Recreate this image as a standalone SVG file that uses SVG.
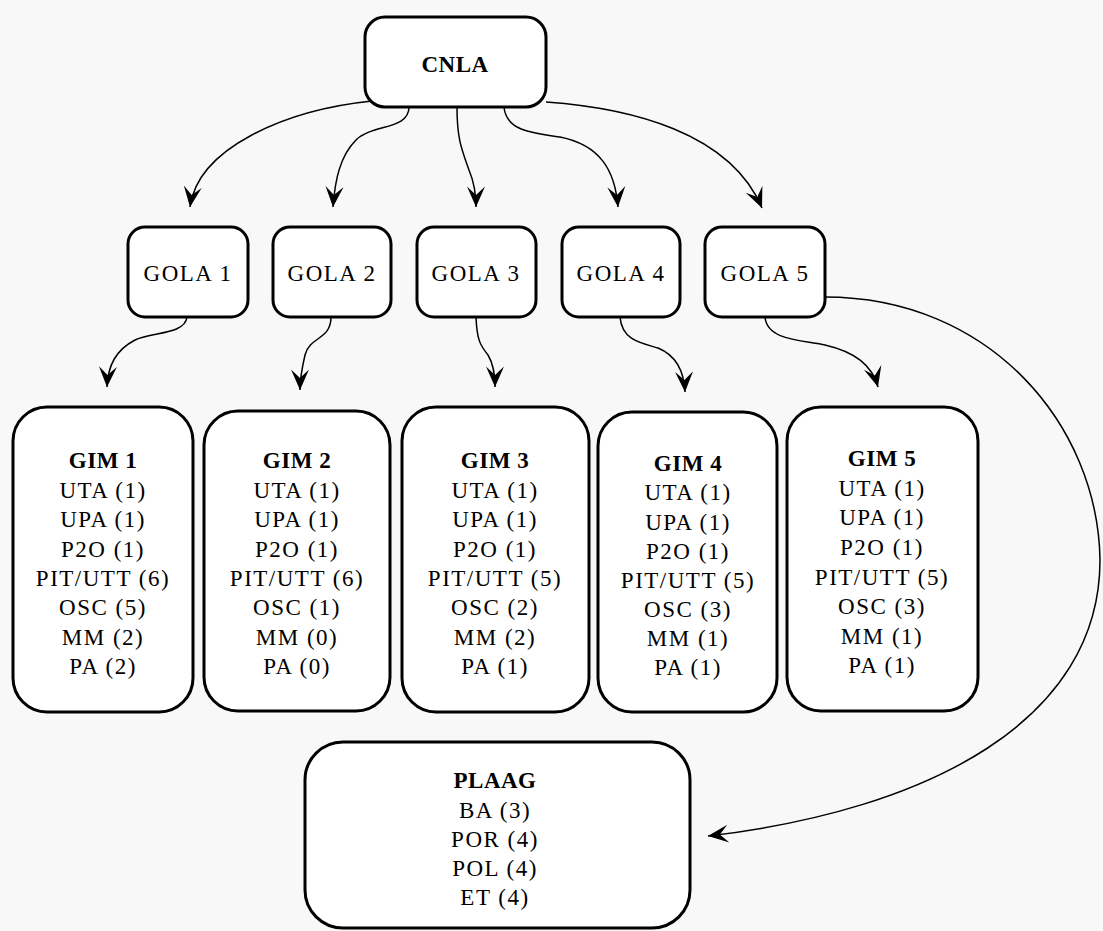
<svg xmlns="http://www.w3.org/2000/svg" width="1103" height="931" viewBox="0 0 1103 931">
<style>
.box{fill:#ffffff;stroke:#000000;stroke-width:3}
.t{font-family:"Liberation Serif","Times New Roman",serif;font-size:23px;fill:#000000;text-anchor:middle;letter-spacing:1.5px}
.b{font-weight:bold;letter-spacing:0.5px}
.c{fill:none;stroke:#000000;stroke-width:1.5}
</style>
<defs>
<marker id="ah" markerUnits="userSpaceOnUse" markerWidth="24" markerHeight="24" viewBox="-18 -9 20 18" refX="0" refY="0" orient="auto">
<path d="M0,0 L-17,-7.5 L-10,0 L-17,7.5 Z" fill="#000000"/>
</marker>
</defs>
<rect x="0" y="0" width="1103" height="931" fill="#f8f8f8"/>
<g id="connectors">
<path class="c" marker-end="url(#ah)" d="M372,101 C285,110 198,148 190,207"/>
<path class="c" marker-end="url(#ah)" d="M409,107 C409,130 372,124 356,140 C340,156 335,180 333,207"/>
<path class="c" marker-end="url(#ah)" d="M457,107 C457,140 462,150 469,170 C474,182 476,195 476,207"/>
<path class="c" marker-end="url(#ah)" d="M504,107 C506,130 530,133 560,137 C600,145 615,170 618,207"/>
<path class="c" marker-end="url(#ah)" d="M546,102 C630,108 730,132 762,208"/>
<path class="c" marker-end="url(#ah)" d="M187,317 C185,335 150,332 135,340 C116,350 108,365 107,387"/>
<path class="c" marker-end="url(#ah)" d="M331,317 C331,340 310,336 305,355 C302,368 300,378 300,390"/>
<path class="c" marker-end="url(#ah)" d="M476,317 C477,340 480,345 488,355 C494,365 495,375 495,387"/>
<path class="c" marker-end="url(#ah)" d="M620,317 C622,340 640,343 658,348 C675,355 684,370 685,392"/>
<path class="c" marker-end="url(#ah)" d="M765,317 C767,340 800,340 825,345 C855,352 872,365 878,387"/>
<path class="c" marker-end="url(#ah)" d="M825,297 C990,297 1098,425 1100,560 C1100,720 930,810 708,836"/>
</g>
<g id="cnla">
<rect class="box" x="365" y="17" width="181" height="90" rx="20" ry="20"/>
<text class="t b" x="455" y="72">CNLA</text>
</g>
<g id="gola1">
<rect class="box" x="128" y="227" width="120" height="90" rx="17" ry="17"/>
<text class="t" x="188" y="281">GOLA 1</text>
</g>
<g id="gola2">
<rect class="box" x="273" y="227" width="118" height="90" rx="17" ry="17"/>
<text class="t" x="332" y="281">GOLA 2</text>
</g>
<g id="gola3">
<rect class="box" x="417" y="227" width="119" height="90" rx="17" ry="17"/>
<text class="t" x="476" y="281">GOLA 3</text>
</g>
<g id="gola4">
<rect class="box" x="562" y="227" width="118" height="90" rx="17" ry="17"/>
<text class="t" x="621" y="281">GOLA 4</text>
</g>
<g id="gola5">
<rect class="box" x="705" y="227" width="120" height="90" rx="17" ry="17"/>
<text class="t" x="765" y="281">GOLA 5</text>
</g>
<g id="gim1">
<rect class="box" x="13" y="407" width="180" height="305" rx="34" ry="34"/>
<text class="t b" x="103" y="468">GIM 1</text>
<text class="t" x="103" y="498">UTA (1)</text>
<text class="t" x="103" y="527">UPA (1)</text>
<text class="t" x="103" y="557">P2O (1)</text>
<text class="t" x="103" y="586">PIT/UTT (6)</text>
<text class="t" x="103" y="615">OSC (5)</text>
<text class="t" x="103" y="645">MM (2)</text>
<text class="t" x="103" y="674">PA (2)</text>
</g>
<g id="gim2">
<rect class="box" x="204" y="411" width="186" height="300" rx="34" ry="34"/>
<text class="t b" x="297" y="468">GIM 2</text>
<text class="t" x="297" y="498">UTA (1)</text>
<text class="t" x="297" y="527">UPA (1)</text>
<text class="t" x="297" y="557">P2O (1)</text>
<text class="t" x="297" y="586">PIT/UTT (6)</text>
<text class="t" x="297" y="615">OSC (1)</text>
<text class="t" x="297" y="645">MM (0)</text>
<text class="t" x="297" y="674">PA (0)</text>
</g>
<g id="gim3">
<rect class="box" x="402" y="407" width="187" height="305" rx="34" ry="34"/>
<text class="t b" x="495" y="468">GIM 3</text>
<text class="t" x="495" y="498">UTA (1)</text>
<text class="t" x="495" y="527">UPA (1)</text>
<text class="t" x="495" y="557">P2O (1)</text>
<text class="t" x="495" y="586">PIT/UTT (5)</text>
<text class="t" x="495" y="615">OSC (2)</text>
<text class="t" x="495" y="645">MM (2)</text>
<text class="t" x="495" y="674">PA (1)</text>
</g>
<g id="gim4">
<rect class="box" x="598" y="412" width="179" height="300" rx="34" ry="34"/>
<text class="t b" x="688" y="471">GIM 4</text>
<text class="t" x="688" y="500">UTA (1)</text>
<text class="t" x="688" y="530">UPA (1)</text>
<text class="t" x="688" y="559">P2O (1)</text>
<text class="t" x="688" y="588">PIT/UTT (5)</text>
<text class="t" x="688" y="617">OSC (3)</text>
<text class="t" x="688" y="646">MM (1)</text>
<text class="t" x="688" y="675">PA (1)</text>
</g>
<g id="gim5">
<rect class="box" x="787" y="407" width="191" height="304" rx="34" ry="34"/>
<text class="t b" x="882" y="466">GIM 5</text>
<text class="t" x="882" y="496">UTA (1)</text>
<text class="t" x="882" y="525">UPA (1)</text>
<text class="t" x="882" y="555">P2O (1)</text>
<text class="t" x="882" y="585">PIT/UTT (5)</text>
<text class="t" x="882" y="614">OSC (3)</text>
<text class="t" x="882" y="644">MM (1)</text>
<text class="t" x="882" y="673">PA (1)</text>
</g>
<g id="plaag">
<rect class="box" x="305" y="742" width="385" height="186" rx="38" ry="38"/>
<text class="t b" x="495" y="788">PLAAG</text>
<text class="t" x="495" y="818">BA (3)</text>
<text class="t" x="495" y="847">POR (4)</text>
<text class="t" x="495" y="876">POL (4)</text>
<text class="t" x="495" y="905">ET (4)</text>
</g>
</svg>
